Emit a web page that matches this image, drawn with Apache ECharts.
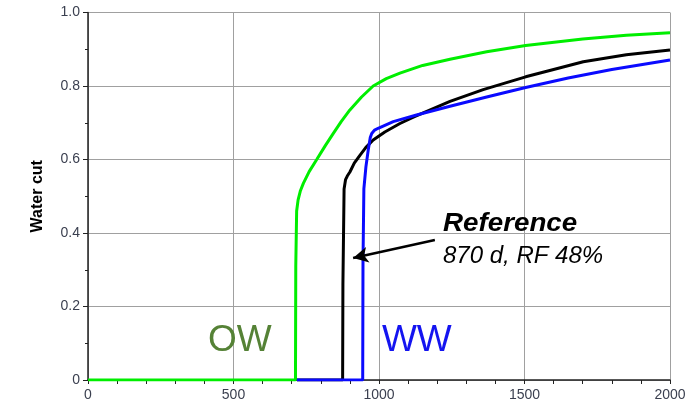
<!DOCTYPE html>
<html>
<head>
<meta charset="utf-8">
<script src="https://cdn.jsdelivr.net/npm/echarts@6/dist/echarts.min.js"></script>
<style>
  html, body { margin: 0; padding: 0; background: #fff; }
  #chart { width: 697px; height: 403px; }
</style>
</head>
<body>
<div id="chart"></div>
<script>
// Water cut vs. time (days) for three injection cases
const xTicks = [0, 500, 1000, 1500, 2000];
const yTicks = [0, 0.2, 0.4, 0.6, 0.8, 1.0];

const owCurve = [
  [0, 0], [713, 0], [714, 0.31], [717, 0.46], [722, 0.49], [730, 0.515], [740, 0.535],
  [760, 0.567], [786, 0.60], [815, 0.637], [843, 0.671], [870, 0.703], [900, 0.735],
  [940, 0.77], [980, 0.80], [1025, 0.82], [1072, 0.835], [1150, 0.856], [1244, 0.873],
  [1370, 0.893], [1504, 0.910], [1700, 0.928], [1850, 0.938], [2000, 0.945]
];
const referenceCurve = [
  [718, 0], [875, 0], [876, 0.26], [880, 0.52], [885, 0.545], [891, 0.555], [900, 0.566],
  [915, 0.59], [935, 0.612], [955, 0.633], [980, 0.653], [1020, 0.675], [1072, 0.698],
  [1120, 0.716], [1164, 0.731], [1244, 0.758], [1358, 0.790], [1504, 0.825], [1600, 0.845],
  [1702, 0.866], [1850, 0.885], [2000, 0.898]
];
const wwCurve = [
  [718, 0], [944, 0], [945, 0.32], [948, 0.52], [955, 0.58], [963, 0.626], [970, 0.66],
  [975, 0.671], [985, 0.68], [997, 0.685], [1049, 0.703], [1129, 0.721], [1244, 0.745],
  [1370, 0.770], [1504, 0.796], [1650, 0.822], [1800, 0.845], [2000, 0.871]
];

// Annotation texts anchored in data coordinates
const notes = [
  { text: 'OW', at: [412, 0.107], font: '37px "Liberation Sans", Arial', color: '#558236', scaleX: 1 },
  { text: 'WW', at: [1010, 0.107], font: '37px "Liberation Sans", Arial', color: '#1414f0', scaleX: 1 },
  { text: 'Reference', at: [1220, 0.425], font: 'italic bold 25px "Liberation Sans", Arial', color: '#000', scaleX: 1.11 },
  { text: '870 d, RF 48%', at: [1220, 0.337], font: 'italic 24px "Liberation Sans", Arial', color: '#000', scaleX: 1 }
];
const arrowFrom = [1192, 0.381];
const arrowTo = [911, 0.332];

const FONT = '"Liberation Sans", Arial, sans-serif';
const chart = echarts.init(document.getElementById('chart'));

function lineSeries(name, data, color, z) {
  return {
    name, type: 'line', data, z,
    symbol: 'none', smooth: false,
    lineStyle: { color, width: 3 },
    animation: false
  };
}

const refSeries = lineSeries('Reference', referenceCurve, '#000000', 3);
refSeries.markLine = {
  silent: true,
  symbol: ['none', 'arrow'],
  symbolSize: [12, 15],
  label: { show: false },
  lineStyle: { color: '#000', width: 2.5, type: 'solid' },
  data: [[{ coord: arrowFrom }, { coord: arrowTo }]],
  animation: false
};

chart.setOption({
  animation: false,
  backgroundColor: '#fff',
  grid: { left: 88, right: 27, top: 12.5, bottom: 23 },
  xAxis: {
    type: 'value', min: xTicks[0], max: xTicks[xTicks.length - 1], interval: 500,
    axisLine: { show: true, onZero: false, lineStyle: { color: '#222', width: 1.5 } },
    axisTick: { show: true, inside: false, length: 4, lineStyle: { color: '#222', width: 1 } },
    minorTick: { show: true, splitNumber: 5, length: 4, lineStyle: { color: '#222', width: 1 } },
    axisLabel: {
      color: '#3a3f4f', fontSize: 14, fontFamily: FONT, margin: 8,
      formatter: v => String(v)
    },
    splitLine: { show: true, lineStyle: { color: '#a0a0a0', width: 1 } }
  },
  yAxis: {
    type: 'value', min: yTicks[0], max: yTicks[yTicks.length - 1], interval: 0.2,
    name: 'Water cut', nameLocation: 'middle', nameGap: 42, nameRotate: 90,
    nameTextStyle: { fontSize: 16, fontWeight: 'bold', color: '#000', fontFamily: FONT },
    axisLine: { show: true, lineStyle: { color: '#222', width: 1.5 } },
    axisTick: { show: true, inside: false, length: 5, lineStyle: { color: '#222', width: 1 } },
    minorTick: { show: true, splitNumber: 2, length: 3, lineStyle: { color: '#222', width: 1 } },
    axisLabel: {
      color: '#3a3f4f', fontSize: 14, fontFamily: FONT, margin: 8,
      formatter: v => (v === 0 ? '0' : v.toFixed(1))
    },
    splitLine: { show: true, lineStyle: { color: '#a0a0a0', width: 1 } }
  },
  series: [
    lineSeries('OW', owCurve, '#00ee00', 2),
    refSeries,
    lineSeries('WW', wwCurve, '#0a0aff', 4)
  ]
});

// Place the annotation texts using the chart's coordinate conversion
chart.setOption({
  graphic: notes.map(n => {
    const p = chart.convertToPixel({ gridIndex: 0 }, n.at);
    return {
      type: 'text', x: p[0], y: p[1], scaleX: n.scaleX, z: 10, silent: true,
      style: { text: n.text, font: n.font, fill: n.color, align: 'left', verticalAlign: 'middle' }
    };
  })
});
</script>
</body>
</html>
